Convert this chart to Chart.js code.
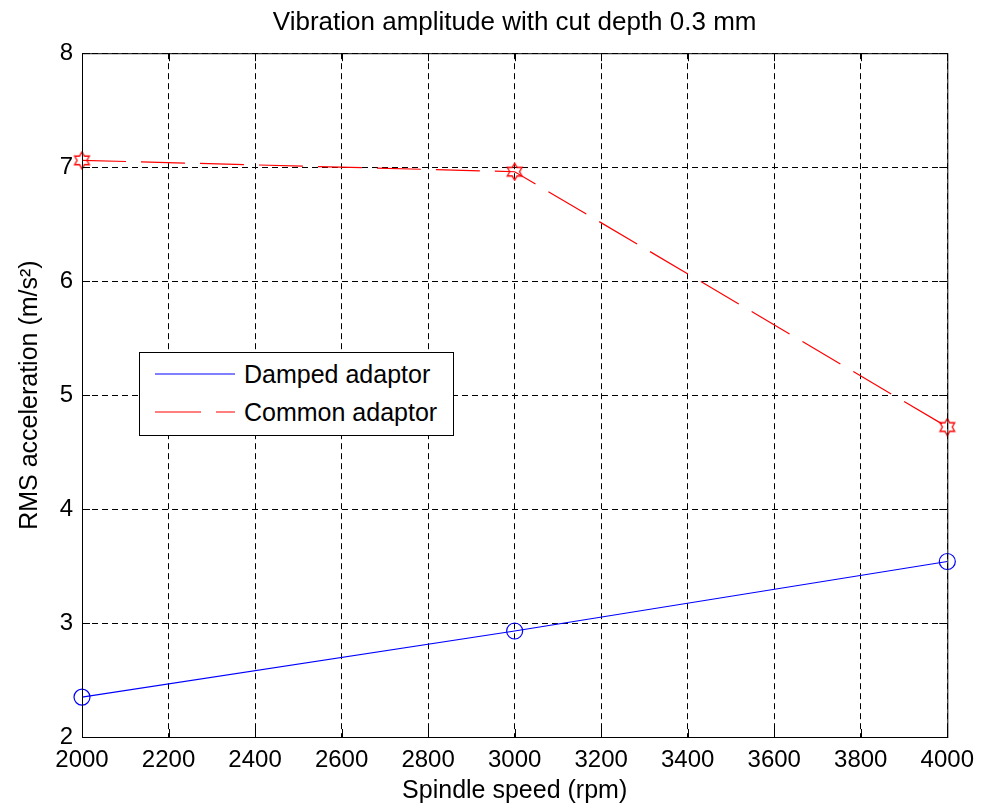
<!DOCTYPE html>
<html>
<head>
<meta charset="utf-8">
<script src="https://cdn.jsdelivr.net/npm/chart.js@4/dist/chart.umd.min.js"></script>
<style>
  html, body { margin: 0; padding: 0; background: #fff; }
  #wrap { position: relative; width: 983px; height: 809px; }
  #legend {
    position: absolute; left: 139px; top: 352px; width: 315px; height: 84px;
    border: 1px solid #000; background: #fff; box-sizing: border-box;
    font-family: "Liberation Sans", Arial, sans-serif; font-size: 25px; color: #000;
  }
  .row { position: absolute; left: 0; width: 100%; height: 30px; }
  .row span { position: absolute; left: 104px; top: 0; line-height: 30px; white-space: nowrap; }
  .row svg { position: absolute; left: 15px; top: 13px; }
</style>
</head>
<body>
<div id="wrap">
  <canvas id="chart" width="983" height="809"></canvas>
  <div id="legend">
    <div class="row" style="top:6px"><svg width="80" height="4"><line x1="0" y1="2" x2="80" y2="2" stroke="#0000ff" stroke-width="1.2"/></svg><span>Damped adaptor</span></div>
    <div class="row" style="top:44px"><svg width="80" height="4"><line x1="0" y1="2" x2="80" y2="2" stroke="#ff0000" stroke-width="1.2" stroke-dasharray="46 15"/></svg><span>Common adaptor</span></div>
  </div>
</div>
<script>
// spindle speeds (rpm)
const speeds = [2000, 3000, 4000];
// RMS acceleration (m/s^2)
const damped = [2.35, 2.93, 3.54];
const common = [7.06, 6.96, 4.72];

const xTicks = [2000, 2200, 2400, 2600, 2800, 3000, 3200, 3400, 3600, 3800, 4000];
const yTicks = [2, 3, 4, 5, 6, 7, 8];

const FONT = '"Liberation Sans", Arial, sans-serif';

// six pointed star marker (matlab hexagram)
function hexagram(size, color) {
  const c = document.createElement('canvas');
  c.width = size; c.height = size;
  const g = c.getContext('2d');
  const cx = size / 2, cy = size / 2, ro = size / 2 - 1, ri = ro * 0.577;
  g.beginPath();
  for (let i = 0; i < 12; i++) {
    const r = i % 2 === 0 ? ro : ri;
    const a = -Math.PI / 2 + i * Math.PI / 6;
    const px = cx + r * Math.cos(a), py = cy + r * Math.sin(a);
    if (i === 0) g.moveTo(px, py); else g.lineTo(px, py);
  }
  g.closePath();
  g.strokeStyle = color;
  g.lineWidth = 1.3;
  g.stroke();
  return c;
}

// box around plot + inward ticks
const boxPlugin = {
  id: 'box',
  afterDraw(chart) {
    const ctx = chart.ctx, a = chart.chartArea;
    const xs = chart.scales.x, ys = chart.scales.y;
    ctx.save();
    ctx.strokeStyle = '#000';
    ctx.lineWidth = 1;
    ctx.setLineDash([]);
    ctx.strokeRect(a.left + 0.5, a.top + 0.5, a.right - a.left, a.bottom - a.top);
    ctx.beginPath();
    xTicks.forEach(v => {
      const px = Math.round(xs.getPixelForValue(v)) + 0.5;
      ctx.moveTo(px, a.bottom); ctx.lineTo(px, a.bottom - 8);
      ctx.moveTo(px, a.top); ctx.lineTo(px, a.top + 8);
    });
    yTicks.forEach(v => {
      const py = Math.round(ys.getPixelForValue(v)) + 0.5;
      ctx.moveTo(a.left, py); ctx.lineTo(a.left + 8, py);
      ctx.moveTo(a.right, py); ctx.lineTo(a.right - 8, py);
    });
    ctx.stroke();
    ctx.restore();
  }
};

new Chart(document.getElementById('chart'), {
  type: 'line',
  data: {
    datasets: [
      {
        label: 'Damped adaptor',
        data: speeds.map((s, i) => ({ x: s, y: damped[i] })),
        borderColor: '#0000ff',
        borderWidth: 1.2,
        pointStyle: 'circle',
        pointRadius: 8,
        pointBorderColor: '#0000ff',
        pointBackgroundColor: 'rgba(0,0,0,0)',
        pointBorderWidth: 1.2,
        tension: 0,
        clip: false
      },
      {
        label: 'Common adaptor',
        data: speeds.map((s, i) => ({ x: s, y: common[i] })),
        borderColor: '#ff0000',
        borderWidth: 1.2,
        borderDash: [44, 15],
        pointStyle: hexagram(19, '#ff0000'),
        pointRadius: 9,
        tension: 0,
        clip: false
      }
    ]
  },
  options: {
    responsive: false,
    animation: false,
    layout: { padding: { left: 0, right: 33, top: 0, bottom: 0 } },
    plugins: {
      legend: { display: false },
      tooltip: { enabled: false },
      title: {
        display: true,
        fullSize: false,
        text: 'Vibration amplitude with cut depth 0.3 mm',
        color: '#000',
        font: { family: FONT, size: 26, weight: 'normal' },
        padding: { top: 7, bottom: 15 }
      }
    },
    scales: {
      x: {
        type: 'linear',
        min: 2000, max: 4000,
        afterBuildTicks: s => { s.ticks = xTicks.map(v => ({ value: v })); },
        afterFit: s => { s.height = 72; },
        ticks: { color: '#000', font: { family: FONT, size: 24 }, padding: 9, maxRotation: 0, callback: v => String(v) },
        grid: { color: '#000', lineWidth: 1, drawTicks: false },
        border: { display: false, dash: [6, 4] },
        title: { display: true, text: 'Spindle speed (rpm)', color: '#000', font: { family: FONT, size: 25 }, padding: { top: 1, bottom: 3 } }
      },
      y: {
        min: 2, max: 8,
        afterBuildTicks: s => { s.ticks = yTicks.map(v => ({ value: v })); },
        afterFit: s => { s.width = 82; },
        ticks: { color: '#000', font: { family: FONT, size: 24 }, padding: 9, callback: v => String(v) },
        grid: { color: '#000', lineWidth: 1, drawTicks: false },
        border: { display: false, dash: [6, 4] },
        title: { display: true, text: 'RMS acceleration (m/s\u00B2)', color: '#000', font: { family: FONT, size: 25 }, padding: { top: 15, bottom: 15 } }
      }
    }
  },
  plugins: [boxPlugin]
});
</script>
</body>
</html>
